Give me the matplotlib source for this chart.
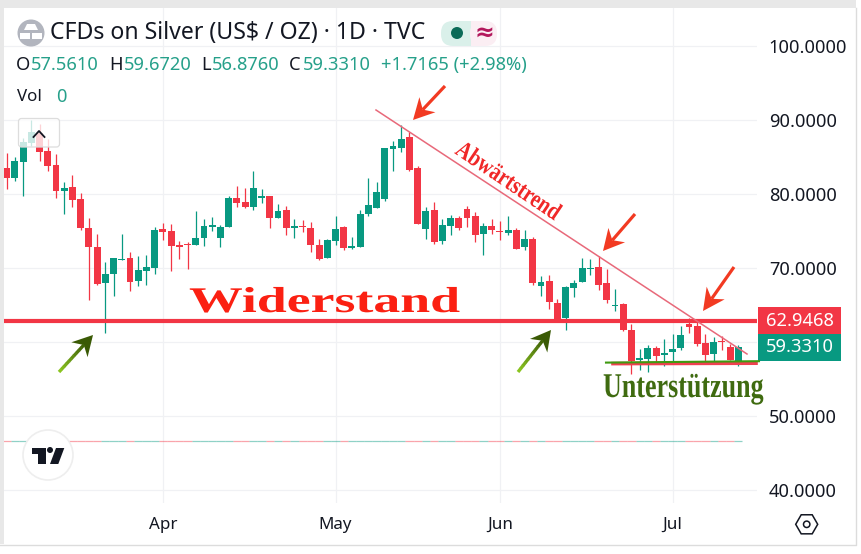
import numpy as np
import matplotlib

matplotlib.use('Agg')

import matplotlib.pyplot as plt
from matplotlib.patches import Circle, FancyBboxPatch, Polygon, Rectangle
from matplotlib.patheffects import AbstractPathEffect
from matplotlib.transforms import Affine2D

# daily candles
opens = [83.55, 82.29, 84.45, 87.01, 88.27, 85.89, 84.00, 80.53, 81.03, 79.41,
         75.50, 72.93, 67.98, 69.20, 71.13, 71.45, 68.25, 69.69, 70.10, 75.36,
         75.09, 73.11, 73.25, 73.11, 74.06, 75.63, 74.06, 75.54, 79.54, 79.00,
         78.37, 79.59, 79.81, 76.76, 77.93, 75.50, 75.77, 75.50, 73.20, 71.45,
         73.65, 75.63, 72.80, 72.84, 77.39, 78.24, 79.41, 86.20, 86.29, 87.78,
         83.59, 75.36, 77.93, 73.70, 75.77, 76.85, 78.06, 77.12, 74.69, 75.77,
         75.09, 74.78, 75.23, 72.93, 74.01, 67.66, 68.34, 65.37, 63.30, 67.39,
         68.11, 69.96, 70.23, 68.02, 64.87, 65.19, 61.73, 57.59, 57.77, 59.21,
         58.26, 58.67, 59.30, 62.54, 62.27, 59.93, 58.40, 60.15, 59.39, 57.561]
highs = [85.66, 85.03, 87.60, 90.07, 89.53, 87.46, 85.48, 81.70, 82.60, 80.20,
         76.80, 74.64, 70.86, 71.45, 74.64, 72.17, 71.72, 71.85, 75.54, 76.20,
         75.99, 73.74, 73.52, 77.79, 76.67, 76.94, 75.86, 79.81, 81.16, 80.85,
         83.19, 80.76, 79.81, 78.73, 78.38, 76.67, 76.49, 76.31, 73.97, 73.97,
         77.12, 75.77, 74.28, 77.84, 82.20, 81.66, 86.29, 87.19, 89.35, 88.50,
         83.91, 78.29, 79.00, 76.67, 77.25, 77.03, 78.47, 77.61, 76.13, 76.67,
         76.44, 77.12, 75.45, 75.23, 74.28, 69.01, 69.15, 65.86, 67.66, 68.47,
         71.40, 71.31, 71.62, 69.96, 67.21, 65.32, 62.49, 59.12, 59.66, 59.48,
         60.47, 61.14, 62.27, 63.30, 62.85, 61.14, 60.78, 60.92, 59.84, 59.672]
lows = [80.71, 81.88, 79.86, 86.60, 84.58, 83.23, 79.59, 77.30, 78.37, 75.14,
        65.69, 67.76, 61.28, 66.23, 71.10, 66.90, 67.58, 67.80, 69.20, 73.88,
        69.69, 71.31, 69.96, 73.11, 73.07, 75.00, 72.84, 75.54, 78.37, 78.24,
        77.97, 78.82, 75.50, 76.76, 74.46, 74.06, 74.87, 72.17, 71.09, 71.36,
        73.11, 72.44, 72.62, 72.84, 77.16, 78.24, 79.18, 83.23, 85.80, 83.23,
        75.95, 74.01, 73.25, 73.25, 74.55, 75.14, 75.63, 73.52, 71.85, 74.69,
        73.88, 74.55, 72.66, 72.53, 67.76, 66.31, 64.56, 63.17, 61.64, 66.09,
        68.11, 69.15, 67.03, 65.32, 64.20, 61.50, 55.79, 56.33, 56.01, 57.32,
        56.78, 57.23, 59.03, 61.28, 59.57, 57.50, 57.50, 58.94, 57.59, 56.876]
closes = [82.29, 84.54, 87.06, 88.41, 85.80, 83.91, 80.53, 80.89, 79.32, 75.41,
          72.84, 67.94, 69.29, 71.45, 71.30, 68.12, 69.83, 70.19, 75.23, 74.96,
          72.98, 72.84, 73.11, 74.15, 75.77, 75.90, 75.63, 79.54, 78.91, 78.33,
          80.89, 79.81, 76.76, 77.75, 75.41, 75.77, 75.63, 73.11, 71.31, 73.88,
          75.36, 72.71, 72.98, 77.34, 78.60, 80.35, 86.29, 86.56, 87.50, 83.32,
          75.95, 77.79, 73.61, 75.90, 76.85, 75.50, 76.85, 74.55, 75.77, 75.23,
          74.87, 75.23, 72.66, 74.01, 67.98, 68.20, 65.41, 63.17, 67.53, 68.07,
          70.09, 70.09, 67.80, 65.77, 65.05, 61.64, 57.45, 57.95, 59.25, 58.22,
          58.62, 59.12, 61.05, 62.13, 59.84, 58.26, 60.06, 60.06, 57.68, 59.331]

month_pos = [19, 40, 60, 81]
month_labels = ['Apr', 'May', 'Jun', 'Jul']
price_ticks = [40, 50, 60, 70, 80, 90, 100]
price_labels = ['40.0000', '50.0000', '', '70.0000', '80.0000', '90.0000', '100.0000']
resistance = 62.9468
volume_level = 46.7

UP = '#089981'
DOWN = '#F23645'
TEXT_GREEN = '#26a08a'
DARK = '#131722'
GRID = '#f0f1f4'
UI_FONT = 'Noto Sans'


class Stretch(AbstractPathEffect):
    # squeezes or widens text along its own baseline, the screenshot text is not at natural width
    def __init__(self, sx):
        self.sx = sx

    def draw_path(self, renderer, gc, tpath, affine, rgbFace=None):
        renderer.draw_path(gc, tpath, Affine2D().scale(self.sx, 1) + affine, rgbFace)


def draw_arrow(ax, tail, tip, shaft, head_len, head_w, color, tail_color=None):
    tail = np.array(tail, float)
    tip = np.array(tip, float)
    d = (tip - tail) / np.linalg.norm(tip - tail)
    n = np.array([-d[1], d[0]])
    base = tip - d * head_len
    notch = tip - d * head_len * 0.68
    if tail_color is None:
        ax.plot([tail[0], notch[0]], [tail[1], notch[1]], color=color, lw=shaft,
                solid_capstyle='butt')
    else:
        # the green arrows fade from light at the tail to dark at the head
        c0 = np.array(matplotlib.colors.to_rgb(tail_color))
        c1 = np.array(matplotlib.colors.to_rgb(color))
        for t0 in np.arange(0, 1, 0.1):
            p0 = tail + (notch - tail) * t0
            p1 = tail + (notch - tail) * (t0 + 0.11)
            ax.plot([p0[0], p1[0]], [p0[1], p1[1]], color=c0 + (c1 - c0) * t0, lw=shaft,
                    solid_capstyle='butt')
    ax.add_patch(Polygon([tip, base + n * head_w, notch, base - n * head_w], closed=True,
                         facecolor=color, edgecolor='none'))


fig = plt.figure(figsize=(8.62, 5.54), dpi=100)
fig.patch.set_facecolor('white')

# plot area in pixels: x 4..757, y 8..503
ax = fig.add_axes([4 / 862, 1 - 503 / 554, 753 / 862, 495 / 554])
ax.set_xlim((4 - 6.7) / 8.22, (757 - 6.7) / 8.22)
ax.set_ylim(38.31, 105.2)
for s in ax.spines.values():
    s.set_visible(False)
ax.grid(True, color=GRID, lw=0.9)
ax.set_axisbelow(True)

x = np.arange(len(opens))
o = np.array(opens)
c = np.array(closes)
colors = [UP if b >= a else DOWN for a, b in zip(o, c)]

ax.vlines(x, lows, highs, colors=colors, lw=0.9, zorder=2)
ax.bar(x, np.abs(c - o), bottom=np.minimum(o, c), width=0.84, color=colors, linewidth=0, zorder=3)
ax.hlines([volume_level] * len(x), x - 0.5, x + 0.5, colors=colors, lw=0.9, alpha=0.45, zorder=2)
ax.hlines(resistance, *ax.get_xlim(), colors=DOWN, lw=3.0, zorder=4)

ax.yaxis.tick_right()
ax.set_yticks(price_ticks)
ax.set_yticklabels(price_labels, fontname=UI_FONT, fontsize=13.2, color=DARK, fontweight='medium')
ax.set_xticks(month_pos)
ax.set_xticklabels(month_labels, fontname=UI_FONT, fontsize=12.2, color=DARK, fontweight='medium')
ax.tick_params(axis='y', length=0, pad=8.5)
ax.tick_params(axis='x', length=0, pad=10)

# overlay in screenshot pixels for the hand drawn marks and the UI bits
ov = fig.add_axes([0, 0, 1, 1])
ov.set_xlim(0, 862)
ov.set_ylim(554, 0)
ov.axis('off')
ov.patch.set_alpha(0)

ov.add_patch(Rectangle((0, 0), 856, 8, fc='#e8e8e8', ec='none'))
ov.add_patch(Rectangle((0, 0), 4, 544, fc='#e8e8e8', ec='none'))
ov.plot([0, 856, 856], [544.5, 544.5, 8], color='#dcdcdc', lw=1.0)

# hand drawn lines
ov.plot([376, 747], [110, 354], color='#e8697a', lw=1.1)
ov.plot([613, 756], [363.6, 363.2], color='#f04050', lw=2.6)
ov.plot([606, 759], [362.6, 361.2], color='#3f9a10', lw=1.5)

red_arrow = '#f23a22'
draw_arrow(ov, (445, 86), (413, 120), 2.3, 21, 11, red_arrow)
draw_arrow(ov, (635, 214), (603, 251), 2.3, 21, 11, red_arrow)
draw_arrow(ov, (734, 267), (703, 311), 2.3, 22, 11, red_arrow)
draw_arrow(ov, (59, 372), (93, 335), 2.4, 20, 11, '#3a5a05', '#8ac420')
draw_arrow(ov, (518, 372), (551, 330), 2.4, 20, 11, '#3a5a05', '#8ac420')

ov.text(189, 312, 'Widerstand', family='Liberation Serif', fontweight='bold', fontsize=26,
        color='#fb2012', va='baseline', ha='left', path_effects=[Stretch(1.49)])
ov.text(603, 397, 'Unterstützung', family='Liberation Serif', fontweight='bold', fontsize=25,
        color='#3f6b10', va='baseline', ha='left', path_effects=[Stretch(0.75)])
ov.text(454, 153, 'Abwärtstrend', family='Liberation Serif', fontweight='bold', fontsize=18,
        color='#f02828', va='baseline', ha='left', rotation=-34, rotation_mode='anchor',
        transform_rotates_text=False, path_effects=[Stretch(0.81)])

# price tags
ov.add_patch(Rectangle((758, 307), 83, 27, fc=DOWN, ec='none'))
ov.add_patch(Rectangle((758, 334), 83, 27, fc=UP, ec='none'))
ov.text(800, 320.5, '62.9468', family=UI_FONT, fontsize=13.2, color='white', ha='center', va='center',
        fontweight='medium')
ov.text(800, 347.5, '59.3310', family=UI_FONT, fontsize=13.2, color='white', ha='center', va='center',
        fontweight='medium')

# header
ov.add_patch(Circle((31, 33), 13.5, fc='#b2b5be', ec='none'))
ov.add_patch(Polygon([(27, 24), (35, 24), (38, 30), (24, 30)], fc='white', ec='none'))
ov.add_patch(Polygon([(20, 33), (30, 33), (30, 39), (20, 39)], fc='white', ec='none'))
ov.add_patch(Polygon([(32, 33), (42, 33), (42, 39), (32, 39)], fc='white', ec='none'))
ov.text(50, 33, 'CFDs on Silver (US$ / OZ) · 1D · TVC', family=UI_FONT, fontsize=16.6, color=DARK,
        ha='left', va='center')

ov.add_patch(FancyBboxPatch((441, 21), 30, 25, boxstyle='round,pad=0,rounding_size=12', fc='#daf0ea', ec='none'))
ov.add_patch(Rectangle((458, 21), 13, 25, fc='#daf0ea', ec='none'))
ov.add_patch(FancyBboxPatch((470, 21), 27, 25, boxstyle='round,pad=0,rounding_size=12', fc='#fbeef3', ec='none'))
ov.add_patch(Rectangle((471, 21), 12, 25, fc='#fbeef3', ec='none'))
ov.add_patch(Circle((457, 33), 6, fc='#0b6b58', ec='none'))
ov.text(484, 33, '≈', family='DejaVu Sans', fontsize=17, color='#b3185c', ha='center', va='center',
        fontweight='bold')

row = [(16, 'O', DARK), (31, '57.5610', TEXT_GREEN), (109, 'H', DARK), (124, '59.6720', TEXT_GREEN),
       (201, 'L', DARK), (212, '56.8760', TEXT_GREEN), (289, 'C', DARK), (303, '59.3310', TEXT_GREEN),
       (381, '+1.7165 (+2.98%)', TEXT_GREEN)]
for px, s, col in row:
    ov.text(px, 65, s, family=UI_FONT, fontsize=13.2, color=col, ha='left', va='center')
ov.text(17, 97, 'Vol', family=UI_FONT, fontsize=12.2, color=DARK, ha='left', va='center')
ov.text(56, 97, '0', family=UI_FONT, fontsize=13.2, color=TEXT_GREEN, ha='left', va='center')

# collapse button
ov.add_patch(FancyBboxPatch((18.5, 118.5), 41, 28.5, boxstyle='round,pad=0,rounding_size=3',
                            fc=(1, 1, 1, 0.78), ec='#dddddd', lw=0.9))
ov.plot([33.5, 39, 44.5], [137, 131, 137], color=DARK, lw=1.3)

# logo
ov.add_patch(Circle((48, 455), 25, fc='white', ec='#eeeeee', lw=1.2))
ov.add_patch(Polygon([(32, 447.7), (45.7, 447.7), (45.7, 464), (38.3, 464), (38.3, 454), (32, 454)],
                     fc=DARK, ec='none'))
ov.add_patch(Circle((50, 450), 3, fc=DARK, ec='none'))
ov.add_patch(Polygon([(56, 448), (64.3, 448), (58.3, 464), (50, 464)], fc=DARK, ec='none'))

# settings icon
ang = np.deg2rad(np.arange(0, 360, 60))
ov.add_patch(Polygon(np.column_stack([806.7 + 11 * np.cos(ang), 524.3 + 11 * np.sin(ang)]), closed=True,
                     fc='none', ec=DARK, lw=1.1))
ov.add_patch(Circle((806.7, 524.3), 3.2, fc='none', ec=DARK, lw=1.1))

fig.savefig('out.png', dpi=100, facecolor='white')
